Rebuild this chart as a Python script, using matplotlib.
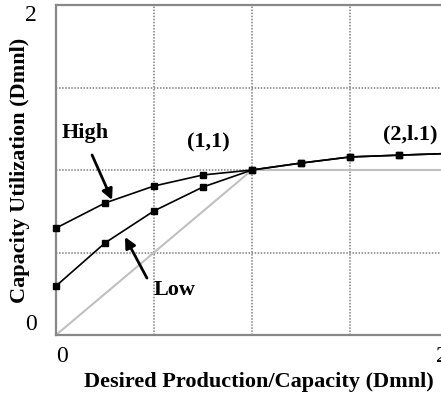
import matplotlib
matplotlib.use("Agg")
import matplotlib.pyplot as plt

plt.rcParams['font.family'] = ['Liberation Serif', 'DejaVu Serif']

# Desired production / capacity
ratio = [0, 0.25, 0.5, 0.75, 1.0, 1.25, 1.5, 1.75, 2.0]
# Capacity utilization for the two curves
util_high = [0.648, 0.80, 0.903, 0.97, 1.0, 1.042, 1.079, 1.09, 1.10]
util_low = [0.297, 0.558, 0.752, 0.897, 1.0, 1.042, 1.079, 1.09, 1.10]
# 45-degree reference capped at 1
ref_x = [0, 1, 2]
ref_y = [0, 1, 1]

fig = plt.figure(figsize=(4.41, 3.94), dpi=100)
ax = fig.add_axes([56 / 441, 59 / 394, 392 / 441, 330 / 394])

ax.plot(ref_x, ref_y, color='#c0c0c0', lw=1.5, zorder=2)
ax.plot(ratio, util_high, color='black', lw=1.2, marker='s', ms=4.5,
        clip_on=False, zorder=3)
ax.plot(ratio, util_low, color='black', lw=1.2, marker='s', ms=4.5,
        clip_on=False, zorder=3)

ax.set_xlim(0, 2)
ax.set_ylim(0, 2)

# dotted grid at the half steps
for v in [0.5, 1.0, 1.5]:
    ax.axvline(v, color='#808080', lw=1.1, ls=(0, (1, 1)), zorder=1)
    ax.axhline(v, color='#808080', lw=1.1, ls=(0, (1, 1)), zorder=1)

for s in ax.spines.values():
    s.set_color('#888888')
    s.set_linewidth(1.6)

ax.set_xticks([0, 2])
ax.set_yticks([0, 2])
ax.set_xticklabels(['0', '2'], fontsize=17)
ax.set_yticklabels(['0', '2'], fontsize=17)
ax.tick_params(length=0, pad=14)
ax.tick_params(axis='x', pad=8)
xl = ax.get_xticklabels()
xl[0].set_ha('left')
xl[1].set_ha('right')
yl = ax.get_yticklabels()
yl[0].set_va('bottom')
yl[1].set_va('top')

ax.set_xlabel('Desired Production/Capacity (Dmnl)', fontsize=16,
              fontweight='bold', va='center')
ax.xaxis.set_label_coords(0.518, -0.142)
ax.set_ylabel('Capacity Utilization (Dmnl)', fontsize=16,
              fontweight='bold', va='center')
ax.yaxis.set_label_coords(-0.092, 0.5)

tkw = dict(fontsize=16, fontweight='bold', ha='center', va='center')
ax.text(0.148, 1.224, 'High', **tkw)
ax.text(0.776, 1.164, '(1,1)', **tkw)
ax.text(1.806, 1.218, '(2,l.1)', **tkw)
ax.text(0.607, 0.273, 'Low', **tkw)

akw = dict(arrowstyle='-|>', color='black', lw=2, mutation_scale=16,
           shrinkA=0, shrinkB=0)
ax.annotate('', xy=(0.286, 0.818), xytext=(0.184, 1.091), arrowprops=akw)
ax.annotate('', xy=(0.352, 0.594), xytext=(0.464, 0.345), arrowprops=akw)

fig.savefig('out.png', dpi=100)
